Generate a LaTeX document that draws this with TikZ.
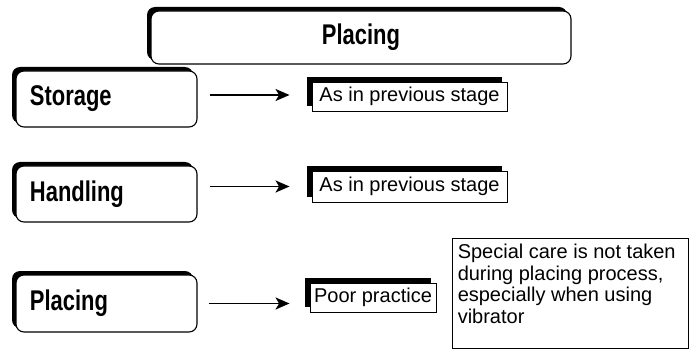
\documentclass[tikz,border=0pt]{standalone}
\usepackage{fontspec}
\setmainfont{Liberation Sans}
\newfontfamily\bigf{Liberation Sans}[FakeStretch=0.77]
\usetikzlibrary{arrows.meta,shadows,calc}
\begin{document}
\begin{tikzpicture}[x=1pt,y=-1pt,
  bigbox/.style={draw=black, line width=1.1pt, fill=white, rounded corners=8pt,
    general shadow={fill=black, shadow xshift=-4pt, shadow yshift=4pt},
    inner xsep=14pt, inner ysep=0pt, font=\bigf\bfseries\fontsize{28.5}{30}\selectfont},
  sidebox/.style={bigbox, minimum width=181pt, minimum height=56pt, text width=153pt, align=left},
  smallbox/.style={draw=black, line width=0.9pt, fill=white,
    general shadow={fill=black, shadow xshift=-5pt, shadow yshift=5pt},
    inner sep=0pt, font=\fontsize{20}{22}\selectfont},
  plainbox/.style={draw=black, line width=0.9pt, fill=white},
  arr/.style={line width=1.8pt, -{Stealth[length=14pt,width=12pt,inset=3.5pt]}}
]
\useasboundingbox (0,0) rectangle (694,350);

\node[bigbox, minimum width=420pt, minimum height=53pt, align=center] (top) at (361,37.5) {Placing};

\node[sidebox] (s1) at (106.5,99) {Storage};
\node[sidebox] (s2) at (106.5,194) {Handling};
\node[sidebox, minimum height=57pt] (s3) at (106.5,303.5) {Placing};

\node[smallbox, minimum width=195pt, minimum height=29pt] (a1) at (409.5,96.5) {As in previous stage};
\node[smallbox, minimum width=195pt, minimum height=31pt] (a2) at (409.5,186.5) {As in previous stage};
\node[smallbox, minimum width=126pt, minimum height=29pt] (p1) at (373,297.5) {Poor practice};

\node[plainbox, minimum width=236pt, minimum height=110pt] (sp) at (570,293) {};
\node[anchor=north west, align=left, inner sep=0pt, font=\fontsize{20}{21.5}\selectfont]
  (spt) at ($(sp.north west)+(6,6.5)$)
  {Special care is not taken\\during placing process,\\especially when using\\vibrator};

\draw[arr] ($(s1.east |- a1.west)+(12,-1.5)$) -- ($(a1.west)+(-22,-1.5)$);
\draw[arr] ($(s2.east |- a2.west)+(12,0)$) -- ($(a2.west)+(-22,0)$);
\draw[arr] ($(s3.east)+(11,0)$) -- ($(s3.east -| p1.west)+(-20,0)$);
\end{tikzpicture}
\end{document}
